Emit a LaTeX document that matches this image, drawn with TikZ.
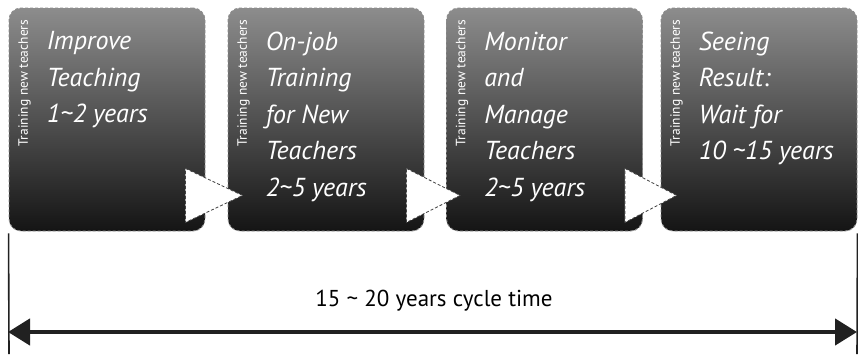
\documentclass[tikz,border=0pt]{standalone}
\usepackage{fontspec}
\setmainfont{PT Sans}
\usepackage{tikz}
\usetikzlibrary{positioning}
\usetikzlibrary{calc}
\usetikzlibrary{arrows.meta}
\definecolor{darkline}{rgb}{0.13,0.13,0.13}

\begin{document}
\begin{tikzpicture}[x=1pt, y=-1pt,
    stage/.style = {minimum width=196pt, minimum height=223pt, rounded corners=12pt,
                    top color=black!45, middle color=black!80, bottom color=black!92,
                    draw=black!45, densely dashed, line width=0.9pt, inner sep=0pt},
    stagetext/.style = {text=white, align=left, anchor=north west, inner sep=0pt,
                        font=\fontsize{26}{36.5}\selectfont\itshape},
    sidelabel/.style = {text=white, rotate=90, anchor=east, inner sep=0pt,
                        font=\fontsize{13.5}{15}\selectfont},
    flow/.style = {fill=white, draw=black!75, densely dashed, line width=0.8pt},
    tick/.style = {draw=darkline, line width=1.6pt},
    span/.style = {draw=darkline, line width=4.5pt, {Triangle[length=22pt,width=26pt]}-{Triangle[length=22pt,width=26pt]}}
    ]
    \useasboundingbox (0,0) rectangle (858,354);

    % the four stages
    \node[stage] (improve) at (107,119.5) {};
    \node[stage] (onjob)   at (326,119.5) {};
    \node[stage] (monitor) at (544.5,119.5) {};
    \node[stage] (result)  at (759,119.5) {};

    \foreach \s in {improve,onjob,monitor,result}
      \node[sidelabel] (\s side) at ($(\s.north west)+(16,12)$) {Training new teachers};

    \node[stagetext] (improvetxt) at ($(improve.north west)+(38,24)$) {Improve\\Teaching\\1\textasciitilde2 years};
    \node[stagetext] (onjobtxt)   at ($(onjob.north west)+(38,24)$) {On-job\\Training\\for New\\Teachers\\2\textasciitilde5 years};
    \node[stagetext] (monitortxt) at ($(monitor.north west)+(38,24)$) {Monitor\\and\\Manage\\Teachers\\2\textasciitilde5 years};
    \node[stagetext] (resulttxt)  at ($(result.north west)+(38,24)$) {Seeing\\Result:\\Wait for\\10 \textasciitilde15 years};

    % arrows between stages
    \draw[flow] ($(improve.south east)+(-20,-63)$) -- ($(onjob.south west)+(15,-36)$) -- ($(improve.south east)+(-20,-9)$) -- cycle;
    \draw[flow] ($(onjob.south east)+(-18,-63)$) -- ($(monitor.south west)+(14,-36)$) -- ($(onjob.south east)+(-18,-9)$) -- cycle;
    \draw[flow] ($(monitor.south east)+(-18,-63)$) -- ($(result.south west)+(16,-36)$) -- ($(monitor.south east)+(-18,-9)$) -- cycle;

    % cycle time
    \coordinate (leftend)  at (9,354);
    \coordinate (rightend) at (857,354);
    \draw[tick] ([yshift=-2pt]improve.south west) -- (leftend);
    \draw[tick] ([yshift=-2pt]result.south east) -- (rightend);
    \coordinate (spanl) at (8,332);
    \coordinate (spanr) at (857,332);
    \draw[span] (spanl) -- (spanr);
    \node[font=\fontsize{23}{26}\selectfont, inner sep=0pt] (cycle) at (434,301) {15 \textasciitilde{} 20 years cycle time};
\end{tikzpicture}
\end{document}
